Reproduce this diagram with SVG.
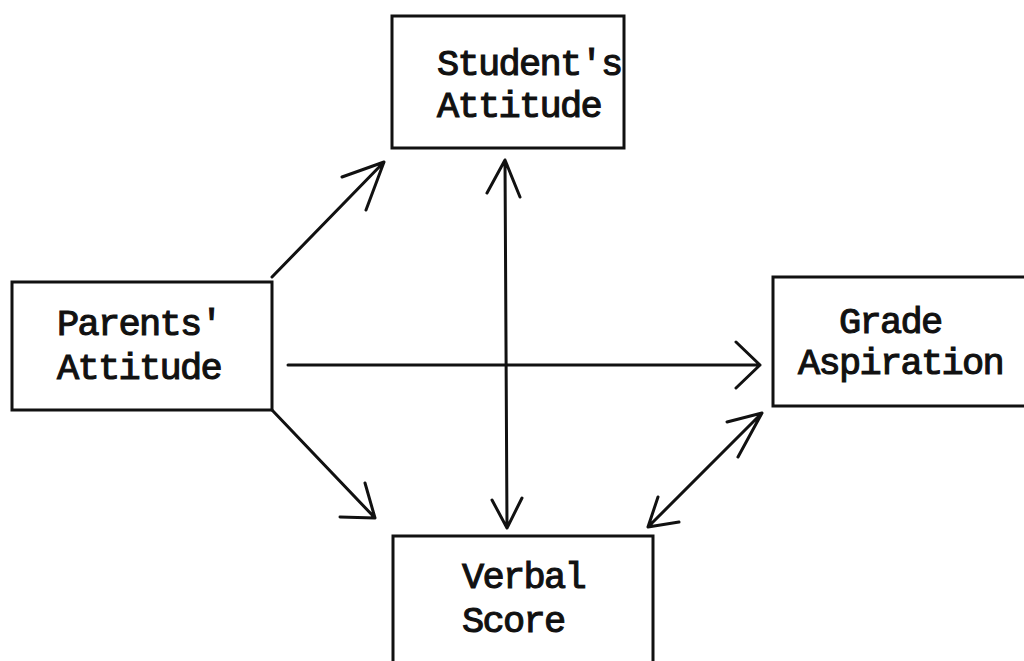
<svg xmlns="http://www.w3.org/2000/svg" width="1024" height="661" viewBox="0 0 1024 661">
<style>
.box{fill:none;stroke:#111;stroke-width:3}
.lbl{font-family:"Liberation Mono","Courier New",monospace;font-weight:normal;font-size:37px;letter-spacing:-1.7px;fill:#111;stroke:#111;stroke-width:1.1}
.ln{fill:none;stroke:#111;stroke-width:3;stroke-linecap:round;stroke-linejoin:round}
</style>
<rect width="1024" height="661" fill="#fff"/>
<g id="student">
<rect class="box" x="392" y="16" width="232" height="132"/>
<text class="lbl" x="437" y="75">Student's</text>
<text class="lbl" x="437" y="117">Attitude</text>
</g>
<g id="parents">
<rect class="box" x="12" y="282" width="260" height="128"/>
<text class="lbl" x="57" y="335">Parents'</text>
<text class="lbl" x="57" y="379">Attitude</text>
</g>
<g id="grade">
<rect class="box" x="773" y="277" width="260" height="129"/>
<text class="lbl" x="839" y="333">Grade</text>
<text class="lbl" x="798" y="374">Aspiration</text>
</g>
<g id="verbal">
<rect class="box" x="393" y="536" width="260" height="140"/>
<text class="lbl" x="462" y="588">Verbal</text>
<text class="lbl" x="462" y="632">Score</text>
</g>
<g id="connectors">
<path class="ln" d="M272,277 L384,162 M342,177 L384,162 L366,210"/>
<path class="ln" d="M272,410 L375,518 M340,517 L375,518 L365,483"/>
<path class="ln" d="M288,365 L760,365 M736,342 L760,365 L736,388"/>
<path class="ln" d="M505,160 L507,528 M487,193 L505,160 L520,197 M492,500 L507,528 L522,498"/>
<path class="ln" d="M648,527 L762,413 M727,422 L762,413 L738,457 M658,497 L648,527 L679,522"/>
</g>
</svg>
